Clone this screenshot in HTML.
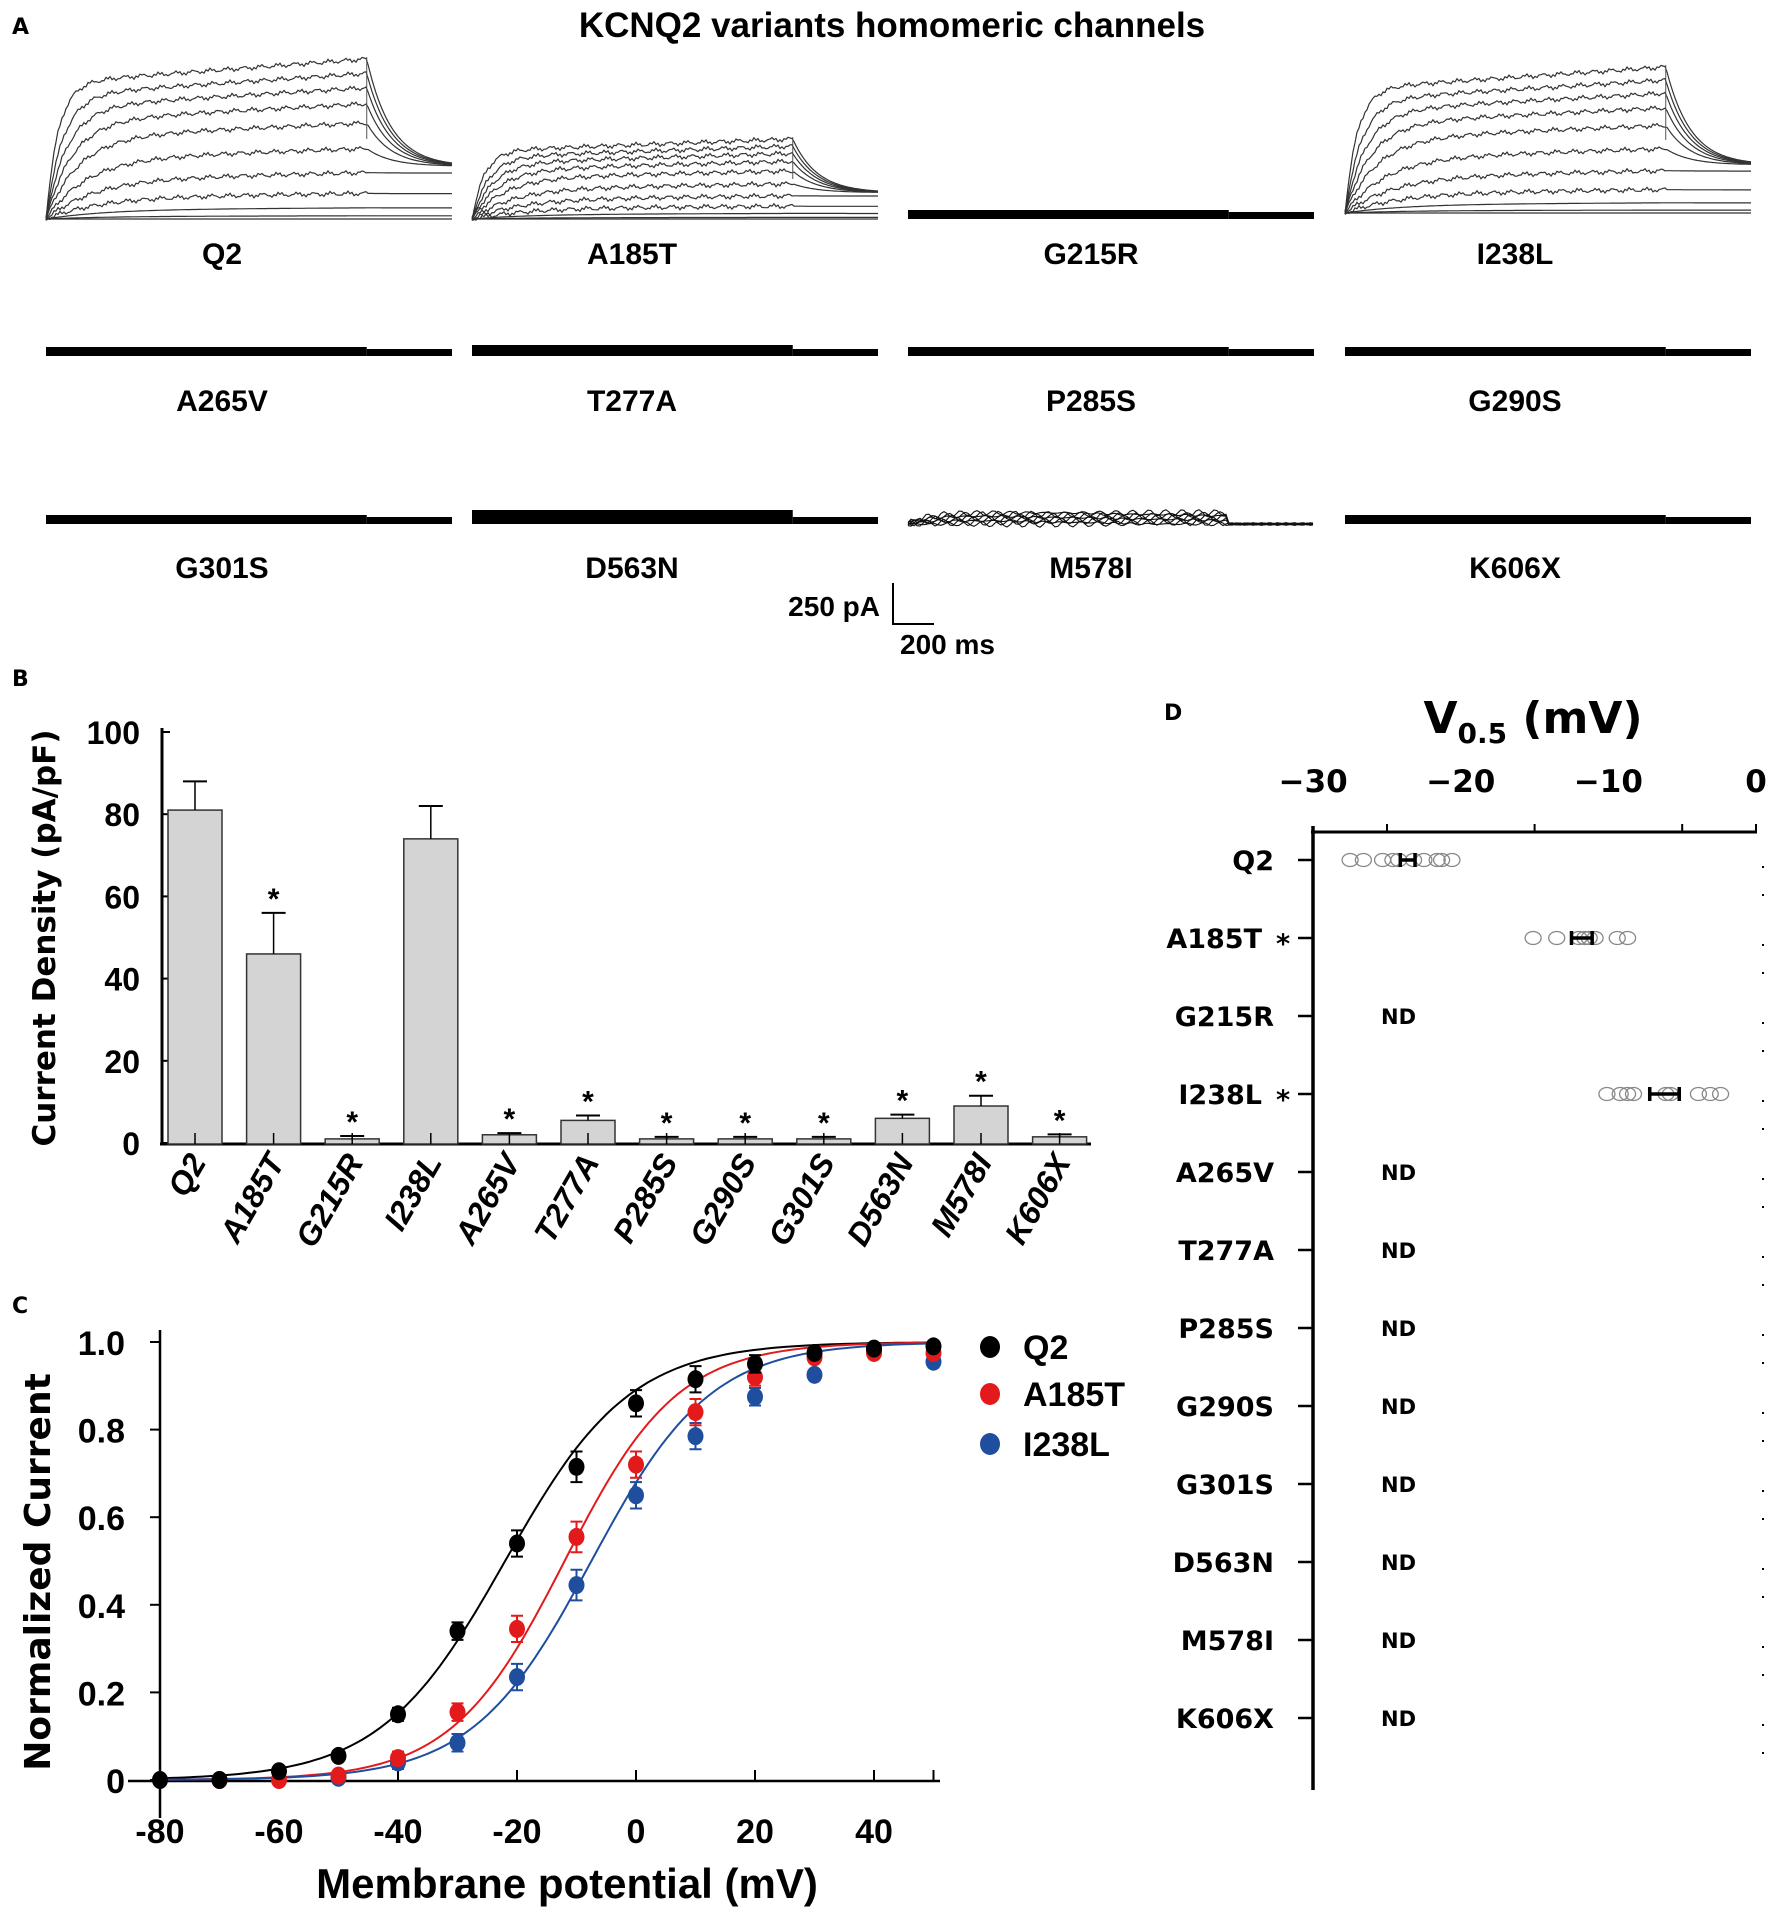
<!DOCTYPE html>
<html><head><meta charset="utf-8">
<style>
html,body{margin:0;padding:0;background:#fff;}
svg{display:block;}
.cond{font-family:"Liberation Sans Narrow","Liberation Sans",sans-serif;font-weight:bold;}
.wide{font-family:"DejaVu Sans","Liberation Sans",sans-serif;font-weight:bold;}
</style></head>
<body>
<svg id="fig" xmlns="http://www.w3.org/2000/svg" width="1772" height="1916" viewBox="0 0 1772 1916">
<rect width="1772" height="1916" fill="#fff"/>
<text x="12" y="34" class="wide" font-size="22">A</text>
<text x="892" y="37" class="wide" font-size="35" text-anchor="middle" style="font-family:'Liberation Sans',sans-serif">KCNQ2 variants homomeric channels</text>
<g id="traces"></g>
<g>
<text x="880" y="616" class="cond" font-size="28" text-anchor="end">250 pA</text>
<path d="M893 583 V624 H934" stroke="#000" stroke-width="2" fill="none"/>
<text x="900" y="654" class="cond" font-size="28">200 ms</text>
</g>
<text x="12" y="686" class="wide" font-size="22">B</text>
<g id="pb"></g>
<text x="12" y="1313" class="wide" font-size="22">C</text>
<g id="pc"></g>
<text x="1164" y="720" class="wide" font-size="22">D</text>
<g id="pd"></g>
</svg>
<script>
const NS="http://www.w3.org/2000/svg";
function mk(parent,tag,attrs,text){const e=document.createElementNS(NS,tag);for(const k in attrs)e.setAttribute(k,attrs[k]);if(text!==undefined)e.textContent=text;parent.appendChild(e);return e;}

/* ---------- Panel A traces ---------- */
const traceNames=["Q2","A185T","G215R","I238L","A265V","T277A","P285S","G290S","G301S","D563N","M578I","K606X"];
const traceMax=[160,80,0,146,0,0,0,0,0,0,0,0];
const colX=[46,472,908,1345];
const labelX=[222,632,1091,1515];
const rowBase=[219,356,524];
const rowLabelY=[264,411,578];
const tr=document.getElementById('traces');
function noise(i,j){return Math.sin(i*1.7+j*3.1)*1.2+Math.sin(i*0.37+j)*1.5;}
traceNames.forEach((n,k)=>{
  const r=Math.floor(k/4),c=k%4;const x0=colX[c],w=406,base=rowBase[r];
  const g=mk(tr,'g',{});
  
  
  const t=mk(g,'text',{x:labelX[c],y:rowLabelY[r],'text-anchor':'middle','font-size':30,class:'cond'},n);
  
  
  const M=traceMax[k];const stepX=x0+w*0.79;
  if(M>0){
    const levels=[0,0.02,0.07,0.16,0.29,0.44,0.6,0.72,0.82,0.91,1];
    const b= c===3?base-6:base;
    levels.forEach((lv,li)=>{
      const A=M*lv;let d='';const tau=0.03+0.12*(1-lv);
      for(let px=0;px<=w;px+=2){
        const f=px/w;let v;
        if(f<0.79){v=A*(1-Math.exp(-f/tau))*(0.85+0.15*f/0.79)+ (lv>0.1?noise(px,li):0);}
        else{const tt=(f-0.79)/0.06;const cc=M*0.33*Math.min(1,lv*3);v=cc+(A-cc)*Math.exp(-tt);}
        d+=(px?'L':'M')+(x0+px)+' '+(b-v).toFixed(1);
      }
      mk(g,'path',{d:d,fill:'none',stroke:'#333',"stroke-width":1.2});
    });
    mk(g,'line',{x1:stepX,x2:stepX,y1:b-M-2,y2:b-M*0.5,stroke:'#555','stroke-width':1});
  } else if(n==="M578I"){
    for(let li=0;li<8;li++){let d='';
      for(let px=0;px<=w;px+=3){const f=px/w;let v=f<0.79?(li*1.6)*(1-Math.exp(-f/0.05))+noise(px,li)*1.2:noise(px,li)*0.5;
        d+=(px?'L':'M')+(x0+px)+' '+(base-v).toFixed(1);}
      mk(g,'path',{d:d,fill:'none',stroke:'#111','stroke-width':1.1});}
  } else {
    const th=(n==="D563N")?14:(n==="T277A")?11:9;
    mk(g,'rect',{x:x0,y:base-th,width:w*0.79,height:th,fill:'#000'});
    mk(g,'rect',{x:stepX,y:base-7,width:w*0.21,height:7,fill:'#000'});
  }
});

/* ---------- Panel B bar chart ---------- */
const bCats=["Q2","A185T","G215R","I238L","A265V","T277A","P285S","G290S","G301S","D563N","M578I","K606X"];
const bMeans=[81,46,1,74,2,5.5,1,1,1,6,9,1.5];
const bErr=[7,10,0.7,8,0.4,1.2,0.5,0.5,0.5,0.9,2.5,0.6];
const bStar=[false,true,true,false,true,true,true,true,true,true,true,true];
const bTicks=[0,20,40,60,80,100];
const pb=document.getElementById('pb');
const yB=v=>1143-v*4.11, xB=i=>195+i*78.6;
mk(pb,'line',{x1:162,x2:162,y1:728,y2:1145,stroke:'#000','stroke-width':3});
mk(pb,'line',{x1:160,x2:1091,y1:1144,y2:1144,stroke:'#000','stroke-width':3});
bTicks.forEach(t=>{
  mk(pb,'line',{x1:162,x2:170,y1:yB(t),y2:yB(t),stroke:'#000','stroke-width':2});
  const tx=mk(pb,'text',{x:140,y:yB(t)+12,'text-anchor':'end','font-size':32,class:'cond'},String(t));
  
  
});
const yl=mk(pb,'text',{x:0,y:0,transform:'translate(55 938) rotate(-90)','text-anchor':'middle','font-size':31,class:'wide'},'Current Density (pA/pF)');


bCats.forEach((c,i)=>{
  const x=xB(i),top=yB(bMeans[i]),et=yB(bMeans[i]+bErr[i]);
  const r=mk(pb,'rect',{x:x-27,y:top,width:54,height:1144-top,fill:'#d4d4d4',stroke:'#333','stroke-width':1.5});
  
  
  mk(pb,'line',{x1:x,x2:x,y1:et,y2:top,stroke:'#000','stroke-width':1.5});
  mk(pb,'line',{x1:x-12,x2:x+12,y1:et,y2:et,stroke:'#000','stroke-width':2});
  mk(pb,'line',{x1:x,x2:x,y1:1133,y2:1144,stroke:'#000','stroke-width':1.5});
  if(bStar[i]){const s=mk(pb,'text',{x:x,y:et-4,'text-anchor':'middle','font-size':30,class:'cond'},'*');
    
    }
  const lb=mk(pb,'text',{x:0,y:0,transform:`translate(${x+12} 1162) rotate(-60)`,'text-anchor':'end','font-size':32,class:'cond','font-style':'italic'},c);
  
  
});

/* ---------- Panel C activation curves ---------- */
const cVolt=[-80,-70,-60,-50,-40,-30,-20,-10,0,10,20,30,40,50];
const cQ2=[0,0,0.02,0.055,0.15,0.34,0.54,0.715,0.86,0.915,0.95,0.975,0.985,0.99];
const cA185T=[null,0,0,0.01,0.05,0.155,0.345,0.555,0.72,0.84,0.92,0.965,0.975,0.975];
const cI238L=[null,null,null,0.005,0.04,0.085,0.235,0.445,0.65,0.785,0.875,0.925,0.98,0.955];
const cErr=[0,0,0.005,0.005,0.015,0.02,0.03,0.035,0.03,0.03,0.02,0.01,0.01,0.01];
const cVhalf=[-22,-12,-7.5];
const cSlope=[10.5,9.5,10];
const cNames=["Q2","A185T","I238L"];
const cColors=["#000","#e31a1c","#1f4e9e"];
const cTicksX=[-80,-60,-40,-20,0,20,40];
const cTicksY=[0,0.2,0.4,0.6,0.8,1.0];
const pc=document.getElementById('pc');
const xC=v=>160+(v+80)*5.95, yC=v=>1780-v*438;
mk(pc,'line',{x1:160,x2:160,y1:1330,y2:1818,stroke:'#000','stroke-width':2.5});
mk(pc,'line',{x1:128,x2:940,y1:1781,y2:1781,stroke:'#000','stroke-width':2.5});
cTicksY.forEach(t=>{
  mk(pc,'line',{x1:150,x2:160,y1:yC(t),y2:yC(t),stroke:'#000','stroke-width':2});
  const tx=mk(pc,'text',{x:125,y:yC(t)+13,'text-anchor':'end','font-size':34,class:'cond'},t===0?'0':t.toFixed(1));
  
  
});
cTicksX.forEach(t=>{
  mk(pc,'line',{x1:xC(t),x2:xC(t),y1:1770,y2:1781,stroke:'#000','stroke-width':2});
  const tx=mk(pc,'text',{x:xC(t),y:1843,'text-anchor':'middle','font-size':34,class:'cond'},String(t));
  
  
});
mk(pc,'line',{x1:xC(50),x2:xC(50),y1:1770,y2:1781,stroke:'#000','stroke-width':2});
const xl=mk(pc,'text',{x:567,y:1898,'text-anchor':'middle','font-size':42,class:'cond'},'Membrane potential (mV)');


const ycl=mk(pc,'text',{x:0,y:0,transform:'translate(50 1572) rotate(-90)','text-anchor':'middle','font-size':36,class:'wide'},'Normalized Current');


[cQ2,cA185T,cI238L].forEach((ser,si)=>{
  let d='';for(let v=-80;v<=50;v+=1){const y=1/(1+Math.exp((cVhalf[si]-v)/cSlope[si]));d+=(v===-80?'M':'L')+xC(v).toFixed(1)+' '+yC(y).toFixed(1);}
  const p=mk(pc,'path',{d:d,fill:'none',stroke:cColors[si],'stroke-width':2});
  
  
});
[cI238L,cA185T,cQ2].forEach((ser,k)=>{const si=2-k;
  ser.forEach((v,i)=>{if(v===null)return;const x=xC(cVolt[i]),y=yC(v),e=cErr[i]*438;
    if(e>3){mk(pc,'path',{d:`M${x-6} ${y-e}H${x+6}M${x} ${y-e}V${y+e}M${x-6} ${y+e}H${x+6}`,stroke:cColors[si],'stroke-width':2,fill:'none'});}
    const c=mk(pc,'ellipse',{cx:x,cy:y,rx:8,ry:9,fill:cColors[si]});
    
    
  });
});
const legY=[1347,1394,1444];
cNames.forEach((n,i)=>{
  const g=mk(pc,'g',{});
  
  
  mk(g,'ellipse',{cx:990,cy:legY[i],rx:10,ry:11,fill:cColors[i]});
  mk(g,'text',{x:1023,y:legY[i]+12,'font-size':34,class:'cond'},n);
});

/* ---------- Panel D V0.5 ---------- */
const dCats=["Q2","A185T*","G215R","I238L*","A265V","T277A","P285S","G290S","G301S","D563N","M578I","K606X"];
const dQ2=[-27.5,-26.6,-25.3,-24.6,-24.2,-23.2,-22.5,-21.6,-21.3,-20.6];
const dA185T=[-15.1,-13.5,-12,-11.6,-11.3,-10.9,-9.4,-8.7];
const dI238L=[-10.1,-9.2,-8.7,-8.3,-6.1,-5.8,-3.9,-3.1,-2.4];
const dMean=[-23.6,-11.8,-6.2];
const dSem=[0.5,0.7,1.0];
const dRows=[0,1,3];
const dTicks=[-30,-20,-10,0];
const pd=document.getElementById('pd');
const xD=v=>1756+v*14.76, yD=i=>860+i*78;
const tt=mk(pd,'text',{x:1533,y:733,'text-anchor':'middle','font-size':44,class:'wide'});


mk(tt,'tspan',{},'V');mk(tt,'tspan',{'font-size':28,dy:10},'0.5');mk(tt,'tspan',{dy:-10},' (mV)');
mk(pd,'line',{x1:1313,x2:1313,y1:826,y2:1790,stroke:'#000','stroke-width':3.5});
mk(pd,'line',{x1:1311,x2:1757,y1:832,y2:832,stroke:'#000','stroke-width':3});
dTicks.forEach(t=>{
  const tx=mk(pd,'text',{x:xD(t),y:792,'text-anchor':'middle','font-size':31,class:'wide'},t===0?'0':'\u2212'+Math.abs(t));
  
  
});
[-25,-15,-5,0].forEach(t=>mk(pd,'line',{x1:xD(t),x2:xD(t),y1:824,y2:832,stroke:'#000','stroke-width':2}));
dCats.forEach((c,i)=>{
  const y=yD(i);const star=c.endsWith('*');
  mk(pd,'line',{x1:1298,x2:1313,y1:y,y2:y,stroke:'#000','stroke-width':2.5});
  const lb=mk(pd,'text',{x:star?1262:1274,y:y+10,'text-anchor':'end','font-size':27,class:'wide'},c.replace('*',''));
  
  
  if(star){const s=mk(pd,'text',{x:1283,y:y+15,'text-anchor':'middle','font-size':27,class:'wide'},'*');
    
    }
  if(!dRows.includes(i)){const nd=mk(pd,'text',{x:1381,y:y+8,'font-size':21,class:'wide'},'ND');
    
    }
  mk(pd,'rect',{x:1762,y:y+6,width:2,height:2,fill:'#000'});
  mk(pd,'rect',{x:1762,y:y+34,width:2,height:2,fill:'#000'});
});
[dQ2,dA185T,dI238L].forEach((ser,k)=>{
  const y=yD(dRows[k]);
  ser.forEach(v=>{const e=mk(pd,'ellipse',{cx:xD(v),cy:y,rx:8,ry:6.5,fill:'none',stroke:'#888','stroke-width':1.3});
    
    });
  const a=xD(dMean[k]-dSem[k]),b=xD(dMean[k]+dSem[k]);
  mk(pd,'path',{d:`M${a} ${y-7}V${y+7}M${b} ${y-7}V${y+7}M${a} ${y}H${b}`,stroke:'#000','stroke-width':3.5,fill:'none'});
});
</script>
</body></html>
